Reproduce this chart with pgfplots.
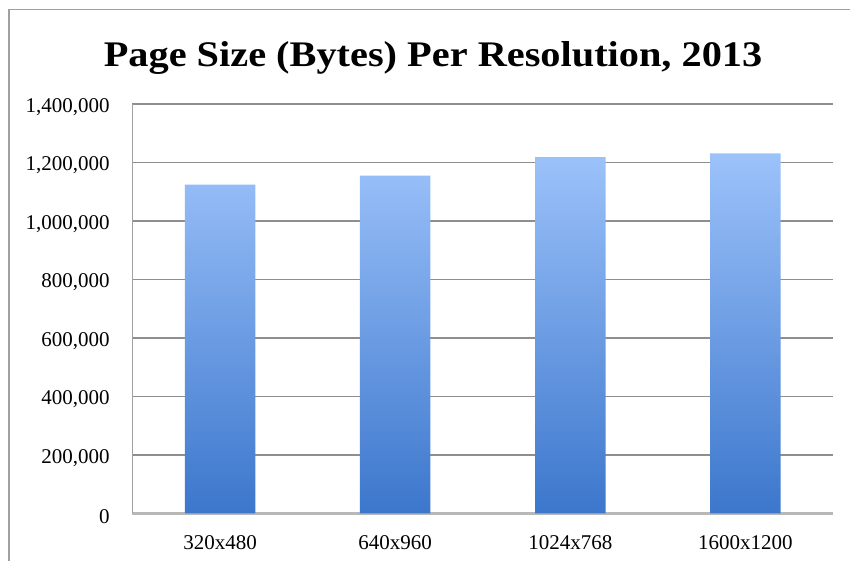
\documentclass[border=0pt]{standalone}
\usepackage{fontspec}
\setmainfont{Liberation Serif}
\newfontfamily\titlefont[FakeStretch=1.12]{Liberation Serif}
\usepackage{pgfplots}
\pgfplotsset{compat=1.18}

\definecolor{barTop}{HTML}{9CC2FA}
\definecolor{barBot}{HTML}{3C77CC}
\definecolor{gridc}{HTML}{8E8E8E}
\definecolor{framec}{HTML}{A0A0A0}
\definecolor{basec}{HTML}{B8B8B8}

\begin{document}
\begin{tikzpicture}
\useasboundingbox (0,0) rectangle (425pt,280.5pt);
% outer chart frame (top and left edges)
\draw[framec, line width=0.75pt] (4.5pt,0) -- (4.5pt,275.85pt) -- (425pt,275.85pt);
\begin{axis}[
  at={(66.25pt,23.75pt)}, anchor=south west,
  width=350.25pt, height=204.75pt, scale only axis,
  xmin=-0.5, xmax=3.5, ymin=0, ymax=1400000,
  xtick={0,1,2,3},
  xticklabels={320x480,640x960,1024x768,1600x1200},
  ytick={0,200000,400000,600000,800000,1000000,1200000,1400000},
  scaled y ticks=false,
  /pgf/number format/assume math mode=true,
  yticklabel={\pgfmathprintnumber[fixed,precision=0,1000 sep={,}]{\tick}},
  axis lines*=left,
  x axis line style={basec, line width=1.2pt},
  y axis line style={framec, line width=0.6pt},
  major tick length=0pt,
  tick style={draw=none},
  ymajorgrids,
  major grid style={gridc, line width=0.6pt},
  tick label style={font=\fontsize{10.5}{12}\selectfont},
  yticklabel style={anchor=east, inner sep=0pt, xshift=-11.25pt, yshift=-1.5pt},
  xticklabel style={anchor=north, inner sep=0pt, yshift=-10.75pt},
  title={Page Size (Bytes) Per Resolution, 2013},
  every axis title shift=0pt,
  title style={at={(0.429,1.091)}, anchor=base, inner sep=0pt, yshift=0pt,
    font=\titlefont\bfseries\fontsize{18}{21}\selectfont},
]
\addplot[ybar, bar width=35.25pt, bar shift=0pt, draw=none,
  top color=barTop, bottom color=barBot]
  coordinates {(0,1124000) (1,1155000) (2,1218000) (3,1231000)};
\end{axis}
\end{tikzpicture}
\end{document}
